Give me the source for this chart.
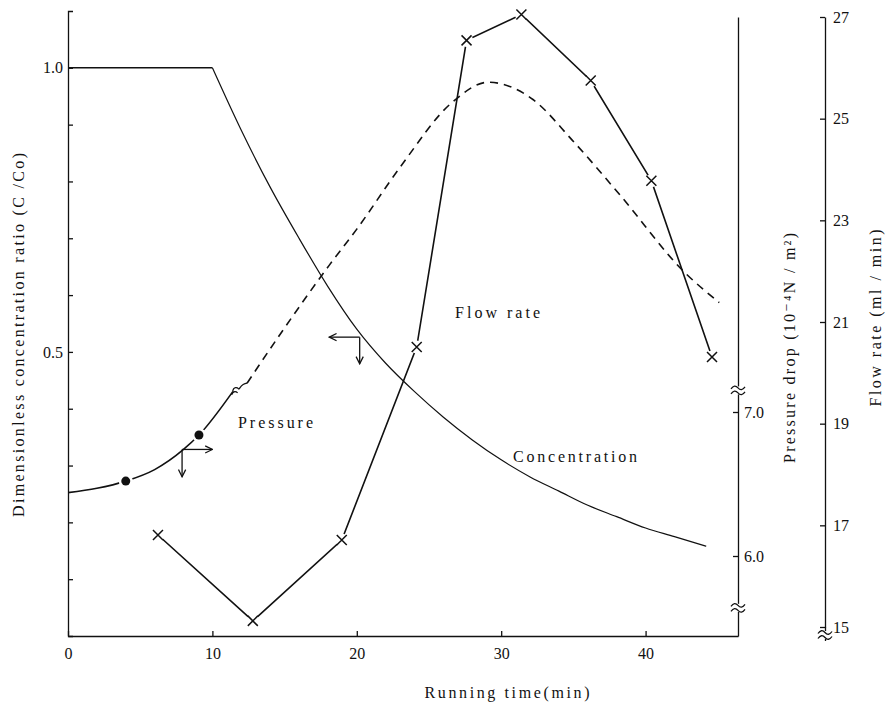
<!DOCTYPE html>
<html>
<head>
<meta charset="utf-8">
<script src="https://cdn.jsdelivr.net/npm/d3@7"></script>
<style>
  body { margin: 0; background: #fff; }
  svg, svg text, .axis text {
    font-family: 'Liberation Serif', 'DejaVu Serif', 'Noto Serif', 'Times New Roman', Times, serif;
  }
  .axis path, .axis line { stroke: #111; stroke-width: 1.3; }
  .axis text { font-size: 16px; fill: #111; }
  .label { font-size: 16px; fill: #111; }
</style>
</head>
<body>
<script>
const { select, scaleLinear, axisLeft, axisRight, axisBottom, line, curveMonotoneX, format } = d3;

// running time (min) vs dimensionless concentration C/Co
const concTime  = [0, 10, 12, 14, 16, 18, 20, 22, 24, 26, 28, 30, 32, 34, 36, 38, 40, 42, 44.2];
const concValue = [1.0, 1.0, 0.89, 0.79, 0.70, 0.615, 0.54, 0.48, 0.43, 0.385, 0.345, 0.31, 0.28, 0.255, 0.23, 0.21, 0.19, 0.175, 0.158];

// pressure drop (10^4 N/m2), solid part below the axis break
const pressSolidTime  = [0, 2, 4, 6, 8, 9.07, 11.4];
const pressSolidValue = [6.44, 6.47, 6.52, 6.60, 6.74, 6.84, 7.14];
// dashed part above the break
const pressDashTime  = [12.4, 14.9, 18.1, 20, 23, 26.6, 29.1, 32.2, 34.9, 38.2, 42.7, 45.1];
const pressDashValue = [7.20, 7.57, 8.02, 8.27, 8.70, 9.15, 9.29, 9.17, 8.89, 8.51, 7.97, 7.76];
const pressDotTime  = [4.0, 9.07];
const pressDotValue = [6.52, 6.84];

// flow rate (ml/min)
const flowTime  = [6.23, 12.8, 18.96, 24.15, 27.6, 31.4, 36.2, 40.4, 44.6];
const flowValue = [16.81, 15.12, 16.71, 20.51, 26.54, 27.05, 25.75, 23.78, 20.31];

const xTicks = [0, 10, 20, 30, 40];
const concTicks = [0.1, 0.2, 0.3, 0.4, 0.5, 0.6, 0.7, 0.8, 0.9, 1.0];
const concLabels = [0.5, 1.0];
const pressTicks = [6.0, 7.0];
const pressBreaks = [7.15, 5.64];
const flowTicks = [15, 17, 19, 21, 23, 25, 27];

const width = 885;
const height = 704;

const svg = select('body')
  .append('svg')
  .attr('width', width)
  .attr('height', height);

const x = scaleLinear().domain([0, 46.4]).range([68, 738]);
const yC = scaleLinear().domain([0, 1.1]).range([636, 11]);
const yP = scaleLinear().domain([6.0, 7.0]).range([556, 412]);
const yF = scaleLinear().domain([15, 27]).range([627, 17]);

// arrow heads
svg.append('defs').append('marker')
  .attr('id', 'head')
  .attr('viewBox', '0 0 10 10')
  .attr('refX', 9).attr('refY', 5)
  .attr('markerWidth', 9).attr('markerHeight', 9)
  .attr('markerUnits', 'userSpaceOnUse')
  .attr('orient', 'auto')
  .append('path')
  .attr('d', 'M1,1 L9,5 L1,9')
  .attr('fill', 'none')
  .attr('stroke', '#111')
  .attr('stroke-width', 1.4);

// X axis
svg.append('g')
  .attr('class', 'axis')
  .attr('transform', `translate(0,${yC(0)})`)
  .call(axisBottom(x).tickValues(xTicks).tickSizeInner(-5).tickSizeOuter(0).tickPadding(12));

// left axis
svg.append('g')
  .attr('class', 'axis')
  .attr('transform', `translate(${x(0)},0)`)
  .call(axisLeft(yC).tickValues(concTicks).tickSizeInner(-5).tickSizeOuter(-5).tickPadding(5)
    .tickFormat(d => concLabels.includes(d) ? d.toFixed(1) : ''));

// pressure axis (linear copy spanning the full frame height)
const pAxis = yP.copy().domain([yP.invert(636), yP.invert(17)]).range([636, 17]);
const pG = svg.append('g')
  .attr('class', 'axis')
  .attr('transform', `translate(${x.range()[1]},0)`)
  .call(axisRight(pAxis).tickValues(pressTicks).tickSizeInner(-5).tickSizeOuter(0).tickPadding(6)
    .tickFormat(format('.1f')));

// flow axis
const fG = svg.append('g')
  .attr('class', 'axis')
  .attr('transform', 'translate(825,0)')
  .call(axisRight(yF).tickValues(flowTicks).tickSizeInner(-5).tickSizeOuter(0).tickPadding(8));

svg.selectAll('.axis').attr('font-family', null);

// axis break symbols
const breakMark = (g, y) => {
  g.append('rect').attr('x', -7).attr('y', y - 4).attr('width', 14).attr('height', 8).attr('fill', '#fff');
  [-2.5, 2.5].forEach(o => {
    g.append('path')
      .attr('d', `M-7,${y + o + 1} q3.5,-5 7,-1 t7,-1`)
      .attr('fill', 'none')
      .attr('stroke', '#111')
      .attr('stroke-width', 1.2);
  });
};
pressBreaks.forEach(v => breakMark(pG, pAxis(v)));
fG.append('line').attr('x1', 0.5).attr('x2', 0.5).attr('y1', yF(15)).attr('y2', yF(15) + 14)
  .attr('stroke', '#111').attr('stroke-width', 1.3);
breakMark(fG, yF(15) + 8);

// concentration curve: flat until breakthrough, then a smooth decay
const concPts = concTime.map((t, i) => [t, concValue[i]]);
const concFlat = line().x(d => x(d[0])).y(d => yC(d[1]));
const concLine = line().x(d => x(d[0])).y(d => yC(d[1])).curve(curveMonotoneX);
svg.append('path')
  .datum(concPts.slice(0, 2))
  .attr('d', concFlat)
  .attr('fill', 'none')
  .attr('stroke', '#111')
  .attr('stroke-width', 1.6);
svg.append('path')
  .datum(concPts.slice(1))
  .attr('d', concLine)
  .attr('fill', 'none')
  .attr('stroke', '#111')
  .attr('stroke-width', 1.2);

// pressure curve
const pressLine = line().x(d => x(d[0])).y(d => yP(d[1])).curve(curveMonotoneX);
svg.append('path')
  .datum(pressSolidTime.map((t, i) => [t, pressSolidValue[i]]))
  .attr('d', pressLine)
  .attr('fill', 'none')
  .attr('stroke', '#111')
  .attr('stroke-width', 1.6);

svg.append('path')
  .datum(pressDashTime.map((t, i) => [t, pressDashValue[i]]))
  .attr('d', pressLine)
  .attr('fill', 'none')
  .attr('stroke', '#111')
  .attr('stroke-width', 1.6)
  .attr('stroke-dasharray', '8,6');

// squiggle where pressure crosses the axis break
{
  const ax = x(pressSolidTime[pressSolidTime.length - 1]), ay = yP(pressSolidValue[pressSolidValue.length - 1]);
  const bx = x(pressDashTime[0]), by = yP(pressDashValue[0]);
  svg.append('path')
    .attr('d', `M${ax},${ay} c1,-6 5,-4 6,-3 s2,-5 ${bx - ax - 6},${by - ay + 3} M${ax - 1},${ay + 3} c2,-5 5,-3 6,-2`)
    .attr('fill', 'none')
    .attr('stroke', '#111')
    .attr('stroke-width', 1.3);
}

// flow rate line
const flowPts = flowTime.map((t, i) => [x(t), yF(flowValue[i])]);
svg.append('path')
  .datum(flowPts)
  .attr('d', line())
  .attr('fill', 'none')
  .attr('stroke', '#111')
  .attr('stroke-width', 1.6);

// white halos so the lines stop short of the markers
svg.selectAll('circle.halo')
  .data(flowPts)
  .enter()
  .append('circle')
  .attr('class', 'halo')
  .attr('cx', d => d[0]).attr('cy', d => d[1]).attr('r', 6.5)
  .attr('fill', '#fff');

svg.selectAll('path.cross')
  .data(flowPts)
  .enter()
  .append('path')
  .attr('class', 'cross')
  .attr('transform', d => `translate(${d[0]},${d[1]})`)
  .attr('d', 'M-5,-5L5,5M-5,5L5,-5')
  .attr('stroke', '#111')
  .attr('stroke-width', 1.5);

const dotPts = pressDotTime.map((t, i) => [x(t), yP(pressDotValue[i])]);
svg.selectAll('circle.dothalo')
  .data(dotPts)
  .enter()
  .append('circle')
  .attr('cx', d => d[0]).attr('cy', d => d[1]).attr('r', 7)
  .attr('fill', '#fff');
svg.selectAll('circle.dot')
  .data(dotPts)
  .enter()
  .append('circle')
  .attr('class', 'dot')
  .attr('cx', d => d[0]).attr('cy', d => d[1]).attr('r', 4.5)
  .attr('fill', '#111');

// reading arrows
const arrow = (x1, y1, x2, y2) => svg.append('line')
  .attr('x1', x1).attr('y1', y1).attr('x2', x2).attr('y2', y2)
  .attr('stroke', '#111').attr('stroke-width', 1.3)
  .attr('marker-end', 'url(#head)');

arrow(x(7.9), yP(6.74), x(10.0), yP(6.74));
arrow(x(7.9), yP(6.74), x(7.9), yP(6.55));
arrow(x(20.2), yC(0.526), x(18.1), yC(0.526));
arrow(x(20.2), yC(0.526), x(20.2), yC(0.479));

// curve labels
svg.append('text').attr('class', 'label')
  .attr('x', 238).attr('y', 428).attr('textLength', 75).text('Pressure');
svg.append('text').attr('class', 'label')
  .attr('x', 455).attr('y', 318).attr('textLength', 85).text('Flow rate');
svg.append('text').attr('class', 'label')
  .attr('x', 513).attr('y', 462).attr('textLength', 124).text('Concentration');

// axis titles
svg.append('text').attr('class', 'label')
  .attr('transform', 'translate(18,335) rotate(-90)')
  .attr('text-anchor', 'middle').attr('dy', '0.35em')
  .attr('textLength', 364)
  .text('Dimensionless concentration ratio (C /Co)');

svg.append('text').attr('class', 'label')
  .attr('transform', 'translate(789,348) rotate(-90)')
  .attr('text-anchor', 'middle').attr('dy', '0.35em')
  .attr('textLength', 230)
  .text('Pressure drop (10⁻⁴N / m²)');

svg.append('text').attr('class', 'label')
  .attr('transform', 'translate(875,318) rotate(-90)')
  .attr('text-anchor', 'middle').attr('dy', '0.35em')
  .attr('textLength', 177)
  .text('Flow rate (ml / min)');

svg.append('text').attr('class', 'label')
  .attr('x', 507).attr('y', 698)
  .attr('text-anchor', 'middle')
  .attr('textLength', 165)
  .text('Running time(min)');
</script>
</body>
</html>
